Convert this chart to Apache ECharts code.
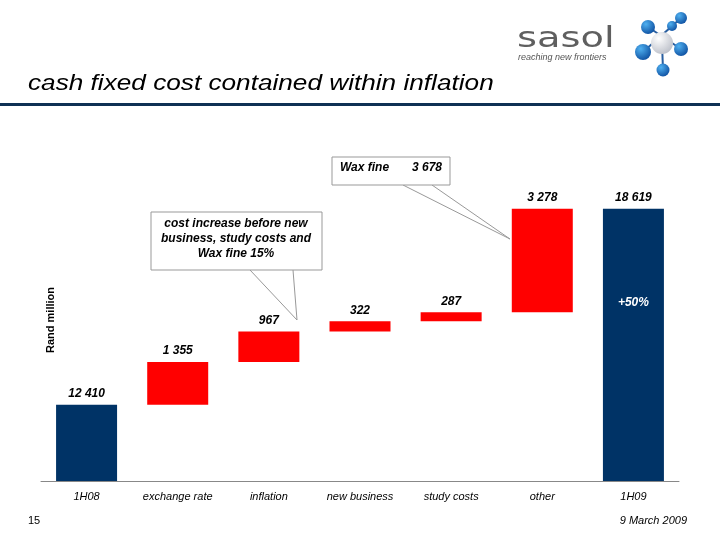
<!DOCTYPE html>
<html>
<head>
<meta charset="utf-8">
<script src="https://cdn.jsdelivr.net/npm/echarts@6/dist/echarts.min.js"></script>
<style>html,body{margin:0;padding:0;background:#fff}#c{width:720px;height:540px}</style>
</head>
<body>
<div id="c"></div>
<script>
const categories = ['1H08', 'exchange rate', 'inflation', 'new business', 'study costs', 'other', '1H09'];
const values = [12410, 1355, 967, 322, 287, 3278, 18619];
const isTotal = [true, false, false, false, false, false, true];
const yMin = 10000;
const yMax = 20000;
const pctLabel = '+50%';
const pctLabelValue = 15640;

const FONT = '"Liberation Sans", Arial, sans-serif';
const NAVY = '#003366';
const RED = '#ff0000';

function fmt(v) { return String(v).replace(/\B(?=(\d{3})+(?!\d))/g, ' '); }

// waterfall base (invisible) built from the values
const base = [];
let run = 0;
values.forEach((v, i) => {
  if (isTotal[i]) { base.push(0); run = v; }
  else { base.push(run); run += v; }
});

const chart = echarts.init(document.getElementById('c'), null, { renderer: 'canvas' });

const logoBalls = [
  [648, 27, 7], [672, 26, 5], [681, 18, 6], [681, 49, 7], [643, 52, 8], [663, 70, 6.5]
];
const graphics = [
  // header
  { type: 'text', x: 28, y: 84, scaleX: 1.19, style: { text: 'cash fixed cost contained within inflation', font: 'italic 22px ' + FONT, fill: '#000', verticalAlign: 'middle' } },
  { type: 'rect', shape: { x: 0, y: 103, width: 720, height: 3 }, style: { fill: '#0e3154' } },
  // logo text
  { type: 'text', x: 517, y: 26, scaleX: 1.37, style: { text: 'sasol', font: '28px "DejaVu Sans", sans-serif', fill: '#5f5f5f' } },
  { type: 'text', x: 518, y: 53, style: { text: 'reaching new frontiers', font: 'italic 9px ' + FONT, fill: '#555' } },
  // molecule
  { type: 'line', shape: { x1: 648, y1: 27, x2: 681, y2: 49 }, style: { stroke: '#2a5fa0', lineWidth: 2 } },
  { type: 'line', shape: { x1: 681, y1: 18, x2: 643, y2: 52 }, style: { stroke: '#2a5fa0', lineWidth: 2 } },
  { type: 'line', shape: { x1: 662, y1: 43, x2: 663, y2: 70 }, style: { stroke: '#2a5fa0', lineWidth: 2 } },
  { type: 'circle', shape: { cx: 662, cy: 43, r: 11 }, style: { fill: new echarts.graphic.RadialGradient(0.35, 0.3, 0.8, [{ offset: 0, color: '#ffffff' }, { offset: 1, color: '#b8bcc6' }]) } }
];
logoBalls.forEach(b => {
  graphics.push({ type: 'circle', shape: { cx: b[0], cy: b[1], r: b[2] }, style: { fill: new echarts.graphic.RadialGradient(0.35, 0.3, 0.8, [{ offset: 0, color: '#4fb0f0' }, { offset: 1, color: '#0a4a9c' }]) } });
});
graphics.push(
  // y axis name
  { type: 'text', x: 51, y: 320, rotation: Math.PI / 2, style: { text: 'Rand million', font: 'bold 11px ' + FONT, fill: '#000', align: 'center', verticalAlign: 'middle' } },
  // callout 1: Wax fine
  { type: 'polyline', shape: { points: [[403, 185], [510, 239], [432, 185]] }, style: { stroke: '#999', lineWidth: 1, fill: null } },
  { type: 'rect', shape: { x: 332, y: 157, width: 118, height: 28 }, style: { fill: '#fff', stroke: '#999', lineWidth: 1 } },
  { type: 'text', x: 340, y: 168, style: { text: 'Wax fine', font: 'italic bold 12px ' + FONT, fill: '#000', verticalAlign: 'middle' } },
  { type: 'text', x: 412, y: 168, style: { text: '3 678', font: 'italic bold 12px ' + FONT, fill: '#000', verticalAlign: 'middle' } },
  // callout 2
  { type: 'polyline', shape: { points: [[250, 270], [297, 320], [293, 270]] }, style: { stroke: '#999', lineWidth: 1, fill: null } },
  { type: 'rect', shape: { x: 151, y: 212, width: 171, height: 58 }, style: { fill: '#fff', stroke: '#999', lineWidth: 1 } },
  { type: 'text', x: 236, y: 239, style: { text: 'cost increase before new\nbusiness, study costs and\nWax fine 15%', font: 'italic bold 12px ' + FONT, fill: '#000', align: 'center', verticalAlign: 'middle', lineHeight: 15 } },
  // footer
  { type: 'text', x: 28, y: 521, style: { text: '15', font: '11px ' + FONT, fill: '#000', verticalAlign: 'middle' } },
  { type: 'text', x: 687, y: 521, style: { text: '9 March 2009', font: 'italic 11px ' + FONT, fill: '#000', align: 'right', verticalAlign: 'middle' } }
);

chart.setOption({
  animation: false,
  backgroundColor: '#fff',
  grid: { left: 41, right: 41, top: 165, bottom: 59, containLabel: false },
  xAxis: {
    type: 'category',
    data: categories,
    axisLine: { show: true, lineStyle: { color: '#888', width: 1 } },
    axisTick: { show: false },
    axisLabel: { interval: 0, margin: 10, color: '#000', fontSize: 11, fontStyle: 'italic', fontFamily: FONT }
  },
  yAxis: {
    type: 'value', min: yMin, max: yMax,
    axisLine: { show: false }, axisTick: { show: false }, axisLabel: { show: false }, splitLine: { show: false }
  },
  series: [
    {
      type: 'bar', stack: 'w', barWidth: 61, silent: true,
      itemStyle: { color: 'rgba(0,0,0,0)' },
      data: base
    },
    {
      type: 'bar', stack: 'w', barWidth: 61,
      data: values.map((v, i) => ({ value: v, itemStyle: { color: isTotal[i] ? NAVY : RED } })),
      label: {
        show: true, position: 'top', distance: 5,
        formatter: p => fmt(p.value),
        color: '#000', fontSize: 12, fontStyle: 'italic', fontWeight: 'bold', fontFamily: FONT
      },
      markPoint: {
        symbol: 'circle', symbolSize: 0,
        data: [{ coord: [categories[6], pctLabelValue], value: pctLabel }],
        label: { show: true, position: 'inside', formatter: pctLabel, color: '#fff', fontSize: 12, fontStyle: 'italic', fontWeight: 'bold', fontFamily: FONT }
      }
    }
  ],
  graphic: graphics
});
</script>
</body>
</html>
